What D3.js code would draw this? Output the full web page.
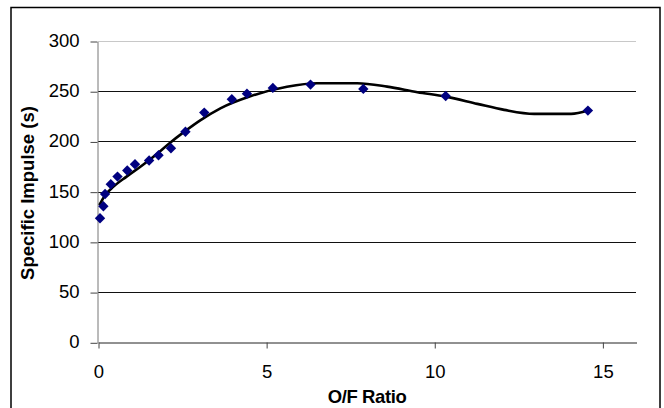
<!DOCTYPE html>
<html lang="en">
<head>
   <meta charset="UTF-8">
   <title>Specific Impulse vs O/F Ratio</title>
   <script src="https://cdn.jsdelivr.net/npm/d3@7"></script>
   <style>
       body { margin: 0; background: #fff; }
       svg { display: block; font-family: Arial, "Liberation Sans", sans-serif; }
   </style>
</head>
<body>
   <svg width="664" height="408"></svg>

   <script>
       // measured points (O/F ratio, Isp in s)
       const ofRatio = [0.06, 0.16, 0.21, 0.38, 0.58, 0.87, 1.1, 1.52, 1.8, 2.17, 2.6, 3.16, 3.98, 4.43, 5.2, 6.32, 7.89, 10.34, 14.57];
       const isp = [123.5, 135.5, 147.7, 157.4, 165, 171, 177.3, 181, 186.2, 193.2, 209.6, 228.7, 242, 247.6, 253.3, 256.6, 252.3, 245.3, 230.7];

       // trendline
       const trendX = [0.04, 0.2, 0.46, 0.85, 1.35, 1.75, 2.1, 2.6, 3.04, 3.64, 4.53, 5.62, 6.52, 7.71, 8.6, 9.5, 10.34, 11.28, 12.08, 12.97, 14.07, 14.57];
       const trendY = [136.5, 146, 155, 165, 177, 187.5, 197.5, 210.5, 221, 233, 245, 254.5, 258, 258, 254.6, 249, 244.6, 237.4, 231.4, 227.4, 227.4, 230.7];

       const xTicks = [0, 5, 10, 15];
       const yTicks = [0, 50, 100, 150, 200, 250, 300];

       const svg = d3.select('svg');

       // outer chart border
       svg.append('rect')
           .attr('x', 11).attr('y', 7.5)
           .attr('width', 649).attr('height', 420)
           .attr('fill', 'none')
           .attr('stroke', '#000')
           .attr('stroke-width', 1.5);

       const x = d3.scaleLinear().domain([0, 16]).range([98, 636]);
       const y = d3.scaleLinear().domain([0, 300]).range([342.3, 41]);

       // gridlines
       svg.append('g')
           .selectAll('line')
           .data(yTicks.filter(d => d > 0))
           .join('line')
           .attr('x1', x(0)).attr('x2', x(16))
           .attr('y1', d => Math.round(y(d)) + 0.5)
           .attr('y2', d => Math.round(y(d)) + 0.5)
           .attr('stroke', d => d === 300 ? '#c8c8c8' : '#111')
           .attr('stroke-width', 1);

       // y axis
       const yAxis = svg.append('g')
           .attr('transform', `translate(${x(0) - 0.5},0.5)`)
           .call(d3.axisLeft(y).tickValues(yTicks).tickSize(7).tickSizeOuter(0).tickPadding(11));
       yAxis.select('.domain').attr('stroke', '#777');
       yAxis.selectAll('.tick line').attr('stroke', '#444');
       yAxis.selectAll('text')
           .attr('font-size', 18.5)
           .attr('dy', '0.27em')
           .attr('fill', '#000')
           .attr('font-family', 'Arial, "Liberation Sans", sans-serif');

       // x axis
       const xAxis = svg.append('g')
           .attr('transform', `translate(0.5,${Math.round(y(0)) + 0.5})`)
           .call(d3.axisBottom(x).tickValues(xTicks).tickSize(6).tickSizeOuter(0).tickPadding(16.5));
       xAxis.select('.domain').attr('stroke', '#222');
       xAxis.selectAll('.tick line').attr('stroke', '#444');
       xAxis.selectAll('text')
           .attr('font-size', 18.5)
           .attr('fill', '#000')
           .attr('font-family', 'Arial, "Liberation Sans", sans-serif');

       // axis titles
       svg.append('text')
           .attr('x', (x(0) + x(16)) / 2)
           .attr('y', 403)
           .attr('text-anchor', 'middle')
           .attr('font-size', 18.5)
           .attr('font-weight', 'bold')
           .attr('letter-spacing', -0.4)
           .text('O/F Ratio');

       svg.append('text')
           .attr('transform', 'translate(34,193) rotate(-90)')
           .attr('text-anchor', 'middle')
           .attr('font-size', 18.5)
           .attr('font-weight', 'bold')
           .text('Specific Impulse (s)');

       // trendline
       const trend = d3.zip(trendX, trendY);
       svg.append('path')
           .datum(trend)
           .attr('fill', 'none')
           .attr('stroke', '#000')
           .attr('stroke-width', 2.6)
           .attr('stroke-linejoin', 'round')
           .attr('d', d3.line().x(d => x(d[0])).y(d => y(d[1])).curve(d3.curveMonotoneX));

       // data markers
       svg.append('g')
           .selectAll('path')
           .data(d3.zip(ofRatio, isp))
           .join('path')
           .attr('transform', d => `translate(${x(d[0])},${y(d[1])})`)
           .attr('d', 'M0,-5.2L5.2,0L0,5.2L-5.2,0Z')
           .attr('fill', '#000080');
   </script>
</body>
</html>
